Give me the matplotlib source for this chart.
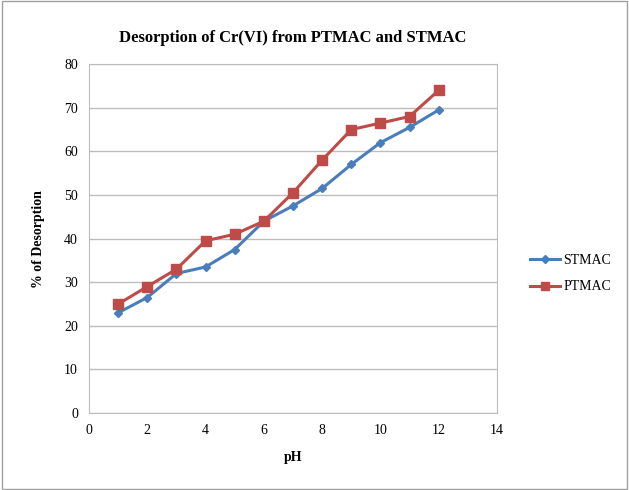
import matplotlib
matplotlib.use("Agg")
import matplotlib.pyplot as plt
from matplotlib.patches import Rectangle

ph = [1, 2, 3, 4, 5, 6, 7, 8, 9, 10, 11, 12]
stmac = [23, 26.5, 32, 33.5, 37.5, 44, 47.5, 51.5, 57, 62, 65.5, 69.5]
ptmac = [25, 29, 33, 39.5, 41, 44, 50.5, 58, 65, 66.5, 68, 74]

plt.rcParams['font.family'] = ['Liberation Serif', 'DejaVu Serif']

fig = plt.figure(figsize=(6.29, 4.9), dpi=100)
fig.patches.append(Rectangle((0.003, 0.003), 0.994, 0.994, transform=fig.transFigure,
                             fill=False, edgecolor='#A0A0A0', linewidth=1.0))
ax = fig.add_axes([0.1415, 0.157, 0.6485, 0.712])

ax.plot(ph, stmac, color='#4A7EBB', marker='D', markersize=4.5, linewidth=2.2, label='STMAC', zorder=3)
ax.plot(ph, ptmac, color='#BE4B48', marker='s', markersize=7, linewidth=2.2, label='PTMAC', zorder=4)

ax.set_xlim(0, 14)
ax.set_ylim(0, 80)
ax.set_xticks(range(0, 15, 2))
ax.set_yticks(range(0, 81, 10))
ax.yaxis.grid(True, color='#BDBDBD', linewidth=1.0)
ax.set_axisbelow(True)
for s in ax.spines.values():
    s.set_color('#BDBDBD')
ax.tick_params(axis='both', length=0, labelsize=10, pad=8)

ax.set_title('Desorption of Cr(VI) from PTMAC and STMAC', fontsize=12, fontweight='bold', pad=16)
ax.set_xlabel('pH', fontsize=10, fontweight='bold', labelpad=10)
ax.set_ylabel('% of Desorption', fontsize=10, fontweight='bold', labelpad=14)

ax.legend(loc='center left', bbox_to_anchor=(1.05, 0.40), frameon=False, fontsize=10,
          handlelength=2.2, labelspacing=1.0, handletextpad=0.2, markerscale=0.8)

fig.savefig('out.png', dpi=100)
